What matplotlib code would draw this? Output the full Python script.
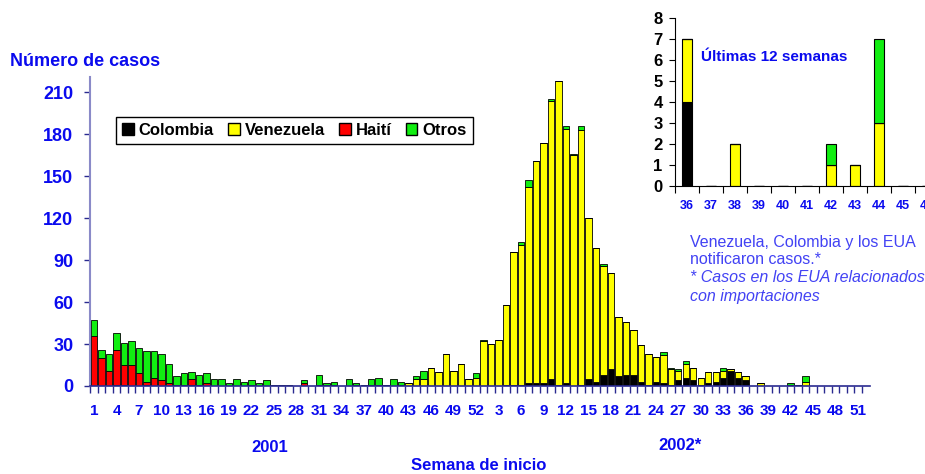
import numpy as np
import matplotlib
matplotlib.use('Agg')
import matplotlib.pyplot as plt
from matplotlib.patches import Patch

plt.rcParams['font.family'] = ['Liberation Sans', 'DejaVu Sans']
estrecha = ['Liberation Sans Narrow', 'Liberation Sans', 'DejaVu Sans']

# datos por semana: 2001 semanas 1-52, luego 2002 semanas 1-52
colombia_2001 = [0, 0, 0, 0, 0, 0, 0, 0, 0, 0, 0, 0, 0, 0, 0, 0, 0, 0, 0, 0,
                 0, 0, 0, 0, 0, 0, 0, 0, 0, 0, 1, 1, 1, 0, 0, 1, 0, 1, 1, 0,
                 0, 0, 0, 0, 0, 0, 0, 0, 0, 0, 0, 0]
venezuela_2001 = [0, 0, 0, 1, 1, 0, 0, 1, 0, 0, 0, 0, 0, 1, 0, 0, 0, 0, 0, 0,
                  0, 0, 0, 0, 0, 0, 0, 0, 0, 0, 0, 0, 0, 0, 0, 0, 0, 0, 0, 1,
                  0, 1, 2, 5, 5, 13, 10, 23, 11, 16, 5, 6]
haiti_2001 = [36, 20, 11, 25, 14, 15, 9, 2, 6, 4, 2, 1, 1, 4, 1, 2, 0, 0, 0, 0,
              0, 1, 0, 0, 0, 0, 0, 0, 2, 0, 0, 0, 0, 0, 0, 0, 0, 0, 0, 0,
              0, 0, 0, 0, 0, 0, 0, 0, 0, 0, 0, 0]
otros_2001 = [11, 6, 12, 12, 16, 17, 18, 22, 19, 19, 14, 6, 8, 5, 7, 7, 5, 5, 2, 5,
              3, 3, 2, 4, 1, 1, 1, 0, 2, 0, 7, 1, 2, 0, 5, 1, 1, 4, 5, 0,
              5, 2, 0, 2, 6, 0, 0, 0, 0, 0, 0, 3]

colombia_2002 = [0, 0, 0, 1, 1, 1, 2, 2, 2, 5, 1, 2, 0, 1, 5, 3, 8, 12, 7, 8,
                 8, 3, 1, 3, 2, 1, 4, 6, 4, 1, 2, 3, 6, 11, 6, 4, 0, 0, 0, 0,
                 0, 0, 0, 0, 0, 0, 0, 0, 0, 0, 0, 0]
venezuela_2002 = [32, 30, 33, 57, 95, 100, 140, 159, 172, 199, 217, 182, 165, 182, 115, 96, 78, 69, 42, 38,
                  32, 26, 22, 18, 20, 11, 7, 10, 9, 5, 8, 7, 5, 1, 4, 3, 0, 2, 0, 0,
                  0, 1, 1, 3, 0, 0, 0, 0, 0, 0, 0, 0]
haiti_2002 = [0] * 52
otros_2002 = [1, 0, 0, 0, 0, 2, 5, 0, 0, 1, 0, 2, 1, 3, 0, 0, 1, 0, 0, 0,
              0, 0, 0, 0, 2, 1, 1, 2, 0, 0, 0, 0, 2, 0, 0, 0, 0, 0, 0, 0,
              0, 1, 0, 4, 0, 0, 0, 0, 0, 0, 0, 0]

semanas = list(range(1, 53)) + list(range(1, 53))

# ultimas 12 semanas (2002)
sem_ult = [36, 37, 38, 39, 40, 41, 42, 43, 44, 45, 46, 47]
col_ult = [4, 0, 0, 0, 0, 0, 0, 0, 0, 0, 0, 0]
ven_ult = [3, 0, 2, 0, 0, 0, 1, 1, 3, 0, 0, 0]
hai_ult = [0, 0, 0, 0, 0, 0, 0, 0, 0, 0, 0, 0]
otr_ult = [0, 0, 0, 0, 0, 0, 1, 0, 4, 0, 0, 0]

azul = '#0a0aee'
c_col = 'black'
c_ven = '#ffff00'
c_hai = '#ff0000'
c_otr = '#11ee11'

col = np.array(colombia_2001 + colombia_2002)
ven = np.array(venezuela_2001 + venezuela_2002)
hai = np.array(haiti_2001 + haiti_2002)
otr = np.array(otros_2001 + otros_2002)
x = np.arange(len(col))

W, H = 925, 474
fig = plt.figure(figsize=(W / 100, H / 100), dpi=100)
ax = fig.add_axes([90 / W, 1 - 386 / H, 780 / W, 309 / H])

w = 0.86
ax.bar(x, col, w, color=c_col, edgecolor='black', linewidth=0.6)
ax.bar(x, ven, w, bottom=col, color=c_ven, edgecolor='black', linewidth=0.6)
ax.bar(x, hai, w, bottom=col + ven, color=c_hai, edgecolor='black', linewidth=0.6)
ax.bar(x, otr, w, bottom=col + ven + hai, color=c_otr, edgecolor='black', linewidth=0.6)

ax.set_xlim(-0.55, 103.6)
ax.set_ylim(0, 221)
ax.set_yticks(range(0, 211, 30))
ax.spines['top'].set_visible(False)
ax.spines['right'].set_visible(False)
ax.spines['left'].set_color('#8a8ac8')
ax.spines['bottom'].set_color('#2a2a90')
ax.spines['left'].set_linewidth(1.5)
ax.spines['bottom'].set_linewidth(1.2)

# marcas en cada semana, etiquetas cada 3 semanas
ax.set_xticks(x - 0.5)
ax.set_xticklabels([])
pos_lab = [i for i in x if (i < 52 and i % 3 == 0) or (i >= 52 and (i - 52 + 1) % 3 == 0)]
ax.set_xticks(pos_lab, minor=True)
ax.set_xticklabels([str(semanas[i]) for i in pos_lab], minor=True)
ax.tick_params(axis='x', which='major', length=5, color='#2a2a90', width=1)
ax.tick_params(axis='x', which='minor', length=0, pad=13, labelsize=11, labelcolor=azul)
ax.tick_params(axis='y', length=4, color='#2a2a90', width=1, pad=8, labelsize=13, labelcolor=azul)
for t in ax.get_xticklabels(minor=True) + ax.get_yticklabels():
    t.set_fontweight('bold')
    t.set_family(estrecha)

fig.text(10 / W, 1 - 61 / H, 'Número de casos', color=azul, fontsize=13, fontweight='bold', va='center')
fig.text(270 / W, 1 - 447 / H, '2001', color=azul, fontsize=12, fontweight='bold', ha='center', va='center')
fig.text(680 / W, 1 - 445 / H, '2002*', color=azul, fontsize=12, fontweight='bold', ha='center', va='center')
fig.text(479 / W, 1 - 465 / H, 'Semana de inicio', color=azul, fontsize=12, fontweight='bold', ha='center', va='center')

# leyenda
handles = [Patch(facecolor=c_col, edgecolor='black', label='Colombia'),
           Patch(facecolor=c_ven, edgecolor='black', label='Venezuela'),
           Patch(facecolor=c_hai, edgecolor='black', label='Haití'),
           Patch(facecolor=c_otr, edgecolor='black', label='Otros')]
leg = fig.legend(handles=handles, loc='upper left', bbox_to_anchor=(116 / W, 1 - 117 / H), ncol=4,
                 fancybox=False, edgecolor='black', framealpha=1, handlelength=0.7, handleheight=0.7,
                 handletextpad=0.3, columnspacing=0.85, borderpad=0.35, borderaxespad=0,
                 prop={'size': 12, 'weight': 'bold'})
leg.get_frame().set_linewidth(1.0)

# nota
c_nota = '#4242f4'
fig.text(690 / W, 1 - 242 / H, 'Venezuela, Colombia y los EUA', color=c_nota, fontsize=11.5, va='center')
fig.text(690 / W, 1 - 260 / H, 'notificaron casos.*', color=c_nota, fontsize=11.5, va='center')
fig.text(690 / W, 1 - 278 / H, '* Casos en los EUA relacionados', color=c_nota, fontsize=11.5, va='center', style='italic')
fig.text(690 / W, 1 - 296 / H, 'con importaciones', color=c_nota, fontsize=11.5, va='center', style='italic')

# recuadro: ultimas 12 semanas
ax2 = fig.add_axes([675 / W, 1 - 186 / H, 288 / W, 168 / H])
xi = np.arange(len(sem_ult))
ci = np.array(col_ult)
vi = np.array(ven_ult)
hi = np.array(hai_ult)
oi = np.array(otr_ult)
wi = 0.4
ax2.bar(xi, ci, wi, color=c_col, edgecolor='black', linewidth=0.8)
ax2.bar(xi, vi, wi, bottom=ci, color=c_ven, edgecolor='black', linewidth=0.8)
ax2.bar(xi, hi, wi, bottom=ci + vi, color=c_hai, edgecolor='black', linewidth=0.8)
ax2.bar(xi, oi, wi, bottom=ci + vi + hi, color=c_otr, edgecolor='black', linewidth=0.8)
ax2.set_xlim(-0.5, 11.5)
ax2.set_ylim(0, 8)
ax2.set_yticks(range(0, 9))
ax2.set_xticks(xi - 0.5)
ax2.set_xticklabels([])
ax2.set_xticks(xi, minor=True)
ax2.set_xticklabels([str(s) for s in sem_ult], minor=True)
ax2.tick_params(axis='x', which='major', length=5, color='black')
ax2.tick_params(axis='x', which='minor', length=0, pad=10, labelsize=9, labelcolor=azul)
ax2.tick_params(axis='y', length=4, pad=5, labelsize=12)
for t in ax2.get_xticklabels(minor=True) + ax2.get_yticklabels():
    t.set_fontweight('bold')
ax2.spines['top'].set_visible(False)
ax2.spines['right'].set_visible(False)
ax2.set_facecolor('white')
fig.text(701 / W, 1 - 57 / H, 'Últimas 12 semanas', color=azul, fontsize=11, fontweight='bold', va='center')

fig.savefig('out.png', dpi=100)
